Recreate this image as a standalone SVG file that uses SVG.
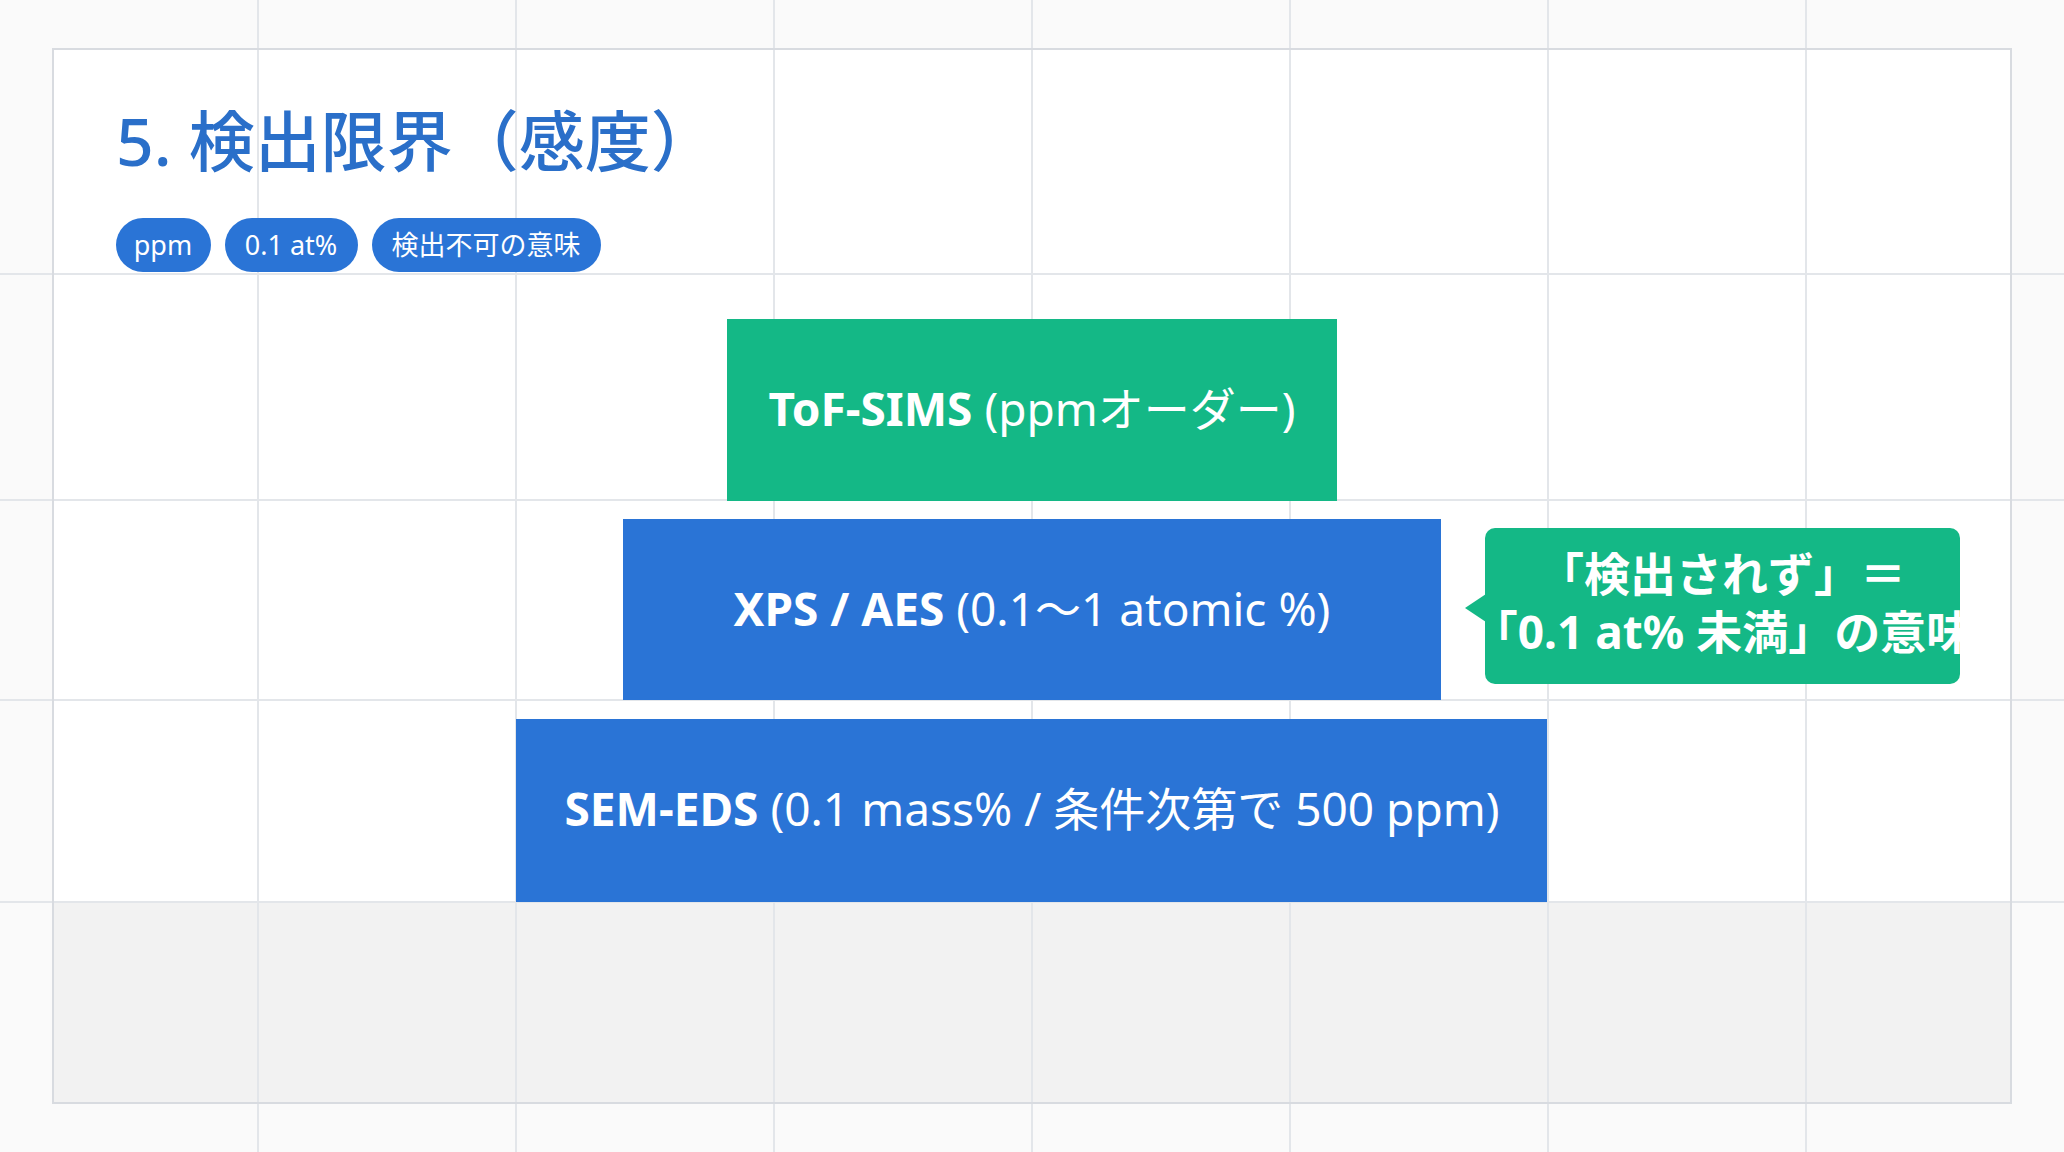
<svg xmlns="http://www.w3.org/2000/svg" width="2064" height="1152" viewBox="0 0 2064 1152">
<style>
.g{stroke:#e3e6ea;stroke-width:2;fill:none}
.t{font-family:"Noto Sans","Noto Sans CJK JP",sans-serif}
.pill{fill:#2a74d6}
.pt{font-family:"Noto Sans","Noto Sans CJK JP",sans-serif;font-size:27px;fill:#fff;text-anchor:middle}
.bx{font-family:"Noto Sans","Noto Sans CJK JP",sans-serif;font-size:46px;fill:#fff;text-anchor:middle}
.b{font-weight:bold}
</style>
<rect width="2064" height="1152" fill="#fafafa"/>
<rect x="53" y="49" width="1958" height="1054" fill="#ffffff"/>
<rect x="53" y="902" width="1958" height="201" fill="#f2f2f2"/>
<g class="g">
<path d="M258 0V1152M516 0V1152M774 0V1152M1032 0V1152M1290 0V1152M1548 0V1152M1806 0V1152M0 274H2064M0 500H2064M0 700H2064M0 902H2064"/>
<rect x="53" y="49" width="1958" height="1054" stroke="#d8dbe0"/>
</g>
<text class="t" x="116" y="166" font-size="66" fill="#2a6fc9" font-weight="500">5. 検出限界（感度）</text>
<g id="tags">
<rect class="pill" x="116" y="218" width="95" height="54" rx="27"/><text class="pt" x="163" y="255">ppm</text>
<rect class="pill" x="225" y="218" width="133" height="54" rx="27"/><text class="pt" x="291" y="255">0.1 at%</text>
<rect class="pill" x="372" y="218" width="229" height="54" rx="27"/><text class="pt" x="486" y="255">検出不可の意味</text>
</g>
<g id="tof">
<rect x="727" y="319" width="610" height="182" fill="#14b886"/>
<text class="bx" x="1032" y="426"><tspan class="b">ToF-SIMS</tspan> (ppmオーダー)</text>
</g>
<g id="xps">
<rect x="623" y="519" width="818" height="181" fill="#2a74d6"/>
<text class="bx" x="1032" y="626"><tspan class="b">XPS / AES</tspan> (0.1〜1 atomic %)</text>
</g>
<g id="sem">
<rect x="516" y="719" width="1031" height="183" fill="#2a74d6"/>
<text class="bx" x="1032" y="826"><tspan class="b">SEM-EDS</tspan> (0.1 mass% / 条件次第で 500 ppm)</text>
</g>
<g id="callout">
<rect x="1485" y="528" width="475" height="156" rx="10" fill="#14b886"/>
<path d="M1486 594L1465 608L1486 622Z" fill="#14b886"/>
<text class="bx b" font-size="36" x="1722" y="591">「検出されず」＝</text>
<text class="bx b" font-size="36" x="1722" y="649">「0.1 at% 未満」の意味</text>
</g>
</svg>
